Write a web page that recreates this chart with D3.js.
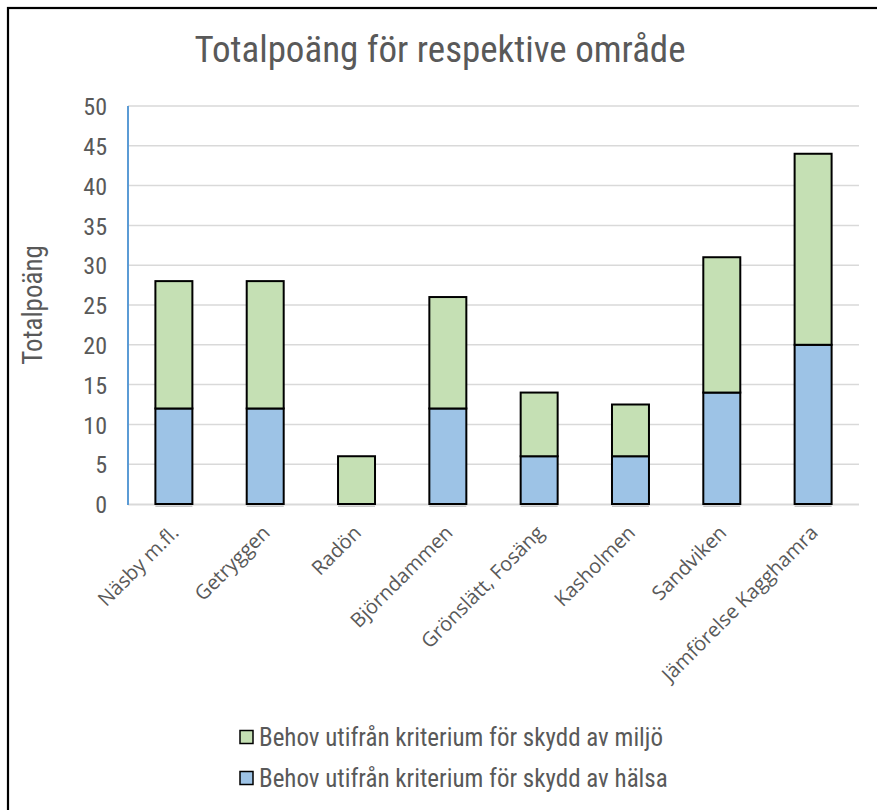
<!DOCTYPE html>
<html>
<head>
<meta charset="utf-8">
<script src="https://cdn.jsdelivr.net/npm/d3@7/dist/d3.min.js"></script>
<style>
  html, body { margin: 0; padding: 0; background: #fff; }
  svg { display: block; }
</style>
</head>
<body>
<script>
// Chart data
const categories = ["Näsby m.fl.", "Getryggen", "Radön", "Björndammen", "Grönslätt, Fosäng", "Kasholmen", "Sandviken", "Jämförelse Kagghamra"];
const halsa = [12, 12, 0, 12, 6, 6, 14, 20];
const miljo = [16, 16, 6, 14, 8, 6.5, 17, 24];
const yTicks = [0, 5, 10, 15, 20, 25, 30, 35, 40, 45, 50];
const seriesNames = ["Behov utifrån kriterium för skydd av miljö", "Behov utifrån kriterium för skydd av hälsa"];
const seriesColors = ["#C5E0B4", "#9DC3E6"];

const W = 877, H = 810;
const narrow = "'Liberation Sans Narrow', 'Arial Narrow', 'Roboto Condensed', sans-serif";
const textColor = "#595959";

const svg = d3.select("body").append("svg").attr("width", W).attr("height", H);

// outer frame
svg.append("rect").attr("x", 8).attr("y", 8).attr("width", W + 20).attr("height", H + 20)
  .attr("fill", "#fff").attr("stroke", "#000").attr("stroke-width", 2.2);

const plot = { left: 128, right: 859, top: 106, bottom: 504 };

const x = d3.scaleBand().domain(categories).range([plot.left, plot.right]).paddingInner(0.595).paddingOuter(0.3);
const y = d3.scaleLinear().domain([0, 50]).range([plot.bottom, plot.top]);

// title
svg.append("text").attr("x", 440).attr("y", 62).attr("text-anchor", "middle")
  .attr("font-family", narrow).attr("font-size", 37).attr("fill", textColor)
  .text("Totalpoäng för respektive område");

// gridlines
svg.append("g").selectAll("line").data(yTicks.filter(d => d > 0)).join("line")
  .attr("x1", plot.left).attr("x2", plot.right)
  .attr("y1", d => y(d)).attr("y2", d => y(d))
  .attr("stroke", "#d9d9d9").attr("stroke-width", 1.5);

// y tick labels
const yAxis = d3.axisLeft(y).tickValues(yTicks).tickSize(0).tickPadding(0);
const gy = svg.append("g").attr("transform", `translate(${plot.left - 21},0)`).call(yAxis);
gy.select(".domain").remove();
gy.selectAll("text").attr("font-family", narrow).attr("font-size", 24).attr("fill", textColor).attr("dy", "0.36em");

// y axis title
svg.append("text").attr("transform", `translate(42,${(plot.top + plot.bottom) / 2}) rotate(-90)`)
  .attr("text-anchor", "middle").attr("font-family", narrow).attr("font-size", 27).attr("fill", textColor)
  .text("Totalpoäng");

// stacked bars
const rows = categories.map((c, i) => ({ cat: c, halsa: halsa[i], miljo: miljo[i] }));
const stack = d3.stack().keys(["halsa", "miljo"])(rows);
const colorByKey = { halsa: seriesColors[1], miljo: seriesColors[0] };

// baseline
svg.append("line").attr("x1", plot.left).attr("x2", plot.right).attr("y1", plot.bottom + 0.5).attr("y2", plot.bottom + 0.5)
  .attr("stroke", "#d9d9d9").attr("stroke-width", 2);
// small marks under each bar
svg.append("g").selectAll("rect").data(categories).join("rect")
  .attr("x", d => x(d)).attr("y", plot.bottom + 1.5).attr("width", x.bandwidth()).attr("height", 1.5)
  .attr("fill", "#c8c8c8");

stack.forEach(layer => {
  svg.append("g").selectAll("rect").data(layer.filter(d => d[1] - d[0] > 0)).join("rect")
    .attr("x", d => x(d.data.cat)).attr("width", x.bandwidth())
    .attr("y", d => y(d[1])).attr("height", d => y(d[0]) - y(d[1]))
    .attr("fill", colorByKey[layer.key]).attr("stroke", "#000").attr("stroke-width", 2);
});

// left axis line
svg.append("line").attr("x1", plot.left).attr("x2", plot.left).attr("y1", plot.top).attr("y2", plot.bottom + 1)
  .attr("stroke", "#5B9BD5").attr("stroke-width", 2);

// x labels
svg.append("g").selectAll("text").data(categories).join("text")
  .attr("transform", d => `translate(${x(d) + x.bandwidth() / 2 + 6},${plot.bottom + 30}) rotate(-45)`)
  .attr("text-anchor", "end").attr("font-family", "'Open Sans', sans-serif").attr("font-size", 20)
  .attr("fill", textColor).text(d => d);

// legend
const legendY = [737, 778];
seriesNames.forEach((name, i) => {
  svg.append("rect").attr("x", 240).attr("y", legendY[i] - 6.5).attr("width", 13).attr("height", 13)
    .attr("fill", seriesColors[i]).attr("stroke", "#000").attr("stroke-width", 1.5);
  svg.append("text").attr("x", 259).attr("y", legendY[i]).attr("dy", "0.36em")
    .attr("font-family", narrow).attr("font-size", 25).attr("fill", textColor).text(name);
});
</script>
</body>
</html>
